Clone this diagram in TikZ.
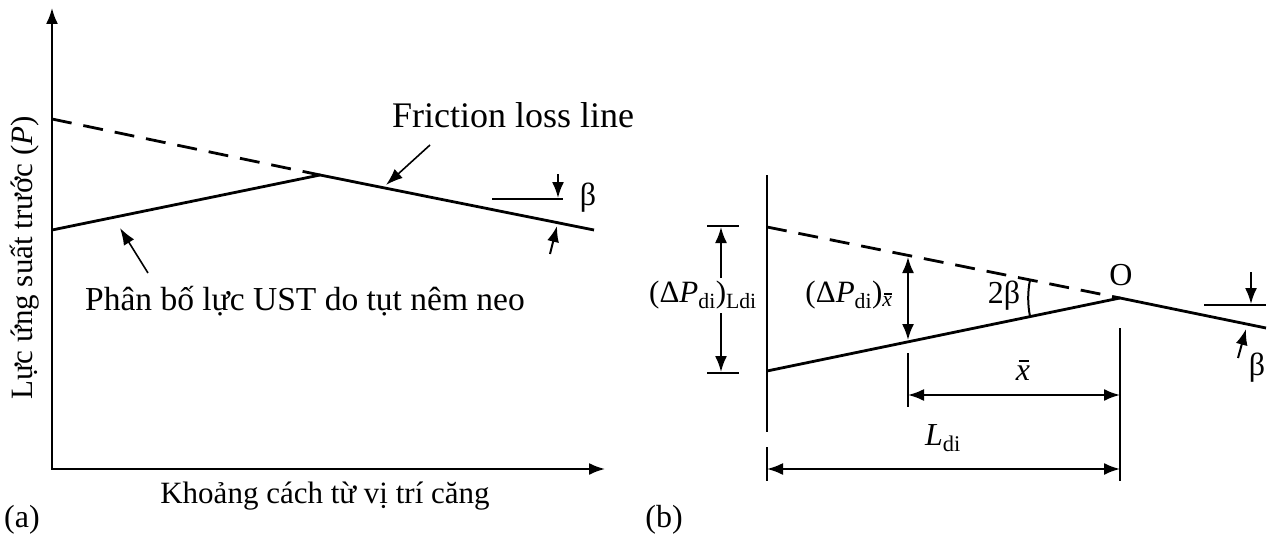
\documentclass[tikz,border=0pt]{standalone}
\usepackage{fontspec}
\setmainfont{Liberation Serif}
\usetikzlibrary{arrows.meta}
\newcommand\barx{{\setbox0\hbox{\itshape x}\vbox{\offinterlineskip\hbox to \wd0{\hskip0.2\wd0\rule{0.75\wd0}{0.06em}\hss}\kern0.1em\box0}}}
\begin{document}
\begin{tikzpicture}[x=1pt,y=-1pt,
  lbl/.style={font=\fontsize{32}{37}\selectfont, inner sep=0pt},
  mainline/.style={line width=2.8pt},
  dashline/.style={line width=2.8pt, dash pattern=on 20pt off 12pt},
  thinline/.style={line width=2pt},
  axis/.style={line width=2pt, {Latex[length=16pt,width=12pt]}-{Latex[length=16pt,width=12pt]}},
  dimarrow/.style={line width=2pt, {Latex[length=16pt,width=12pt]}-{Latex[length=16pt,width=12pt]}},
  onearrow/.style={line width=2pt, -{Latex[length=16pt,width=12pt]}},
  pointer/.style={line width=1.6pt, -{Latex[length=17pt,width=12pt]}}
]
\useasboundingbox (0,0) rectangle (1275,535);

% ---------------- panel (a) ----------------
\coordinate (ytop) at (52,8);
\coordinate (orig) at (52,469);
\coordinate (xend) at (605,469);
\draw[axis] (ytop) -- (orig) -- (xend);

\coordinate (a1) at (52,119);
\coordinate (apk) at (320,175);
\coordinate (aend) at (594,230);
\coordinate (a2) at (52,230);
\draw[dashline] (a1) -- (apk);
\draw[mainline] (a2) -- (apk) -- (aend);

\node[lbl, font=\fontsize{36}{40}\selectfont] (fl) at (513,115) {Friction loss line};
\coordinate (flS) at (430,145);
\coordinate (flE) at (386,185);
\draw[pointer] (flS) -- (flE);

\node[lbl, font=\fontsize{33.5}{38}\selectfont] (pb) at (305,301) {Phân bố lực UST do tụt nêm neo};
\coordinate (pbS) at (148,273);
\coordinate (pbE) at (120,228);
\draw[pointer] (pbS) -- (pbE);

\coordinate (bhL) at (492,199);
\coordinate (bhR) at (563,199);
\draw[thinline] (bhL) -- (bhR);
\coordinate (bdS) at (558,174);
\coordinate (bdE) at (558,198);
\draw[onearrow] (bdS) -- (bdE);
\coordinate (buS) at (550,254);
\coordinate (buE) at (557,226);
\draw[onearrow] (buS) -- (buE);
\node[lbl] (ba) at (588,198) {β};

\node[lbl, font=\fontsize{31}{36}\selectfont, rotate=90] (ylab) at (25,258) {Lực ứng suất trước (\textit{P})};
\node[lbl, font=\fontsize{31}{36}\selectfont] (xlab) at (325,496) {Khoảng cách từ vị trí căng};
\node[lbl] (la) at (22,520) {(a)};

% ---------------- panel (b) ----------------
\coordinate (vtop) at (767,175);
\coordinate (vbot) at (767,432);
\draw[thinline] (vtop) -- (vbot);
\coordinate (vext1) at (767,447);
\coordinate (vext2) at (767,481);
\draw[thinline] (vext1) -- (vext2);

\coordinate (b1) at (767,227);
\coordinate (O) at (1120,298);
\coordinate (b2) at (767,371);
\coordinate (bend) at (1266,328);
\draw[dashline] (b1) -- (O);
\draw[mainline] (b2) -- (O) -- (bend);
\node[lbl, anchor=base] (Olab) at (1121,285) {O};

% left dimension
\coordinate (t1L) at (707,226);
\coordinate (t1R) at (739,226);
\coordinate (t2L) at (707,373);
\coordinate (t2R) at (739,373);
\draw[thinline] (t1L) -- (t1R);
\draw[thinline] (t2L) -- (t2R);
\node[lbl, font=\fontsize{31}{36}\selectfont, anchor=base] (dPL) at (703,302) {(Δ\textit{P}\textsubscript{di})\textsubscript{Ldi}};
\coordinate (dl1) at (721,278);
\coordinate (dl1e) at (721,227);
\coordinate (dl2) at (721,313);
\coordinate (dl2e) at (721,372);
\draw[onearrow] (dl1) -- (dl1e);
\draw[onearrow] (dl2) -- (dl2e);

% inner dimension
\coordinate (iT) at (908,257);
\coordinate (iB) at (908,340);
\draw[dimarrow] (iT) -- (iB);
\node[lbl, font=\fontsize{31}{36}\selectfont, anchor=base] (dPx) at (849,302) {(Δ\textit{P}\textsubscript{di})\textsubscript{\barx}};

% extension lines
\coordinate (e1T) at (908,353);
\coordinate (e1B) at (908,407);
\draw[thinline] (e1T) -- (e1B);
\coordinate (e2T) at (1120,328);
\coordinate (e2B) at (1120,481);
\draw[thinline] (e2T) -- (e2B);

% x-bar dimension
\coordinate (xbL) at (908,395);
\coordinate (xbR) at (1120,395);
\draw[dimarrow] (xbL) -- (xbR);
\node[lbl, anchor=base] (xbl) at (1023,380) {\barx};

% L_di dimension
\coordinate (LdL) at (767,469);
\coordinate (LdR) at (1120,469);
\draw[dimarrow] (LdL) -- (LdR);
\node[lbl, anchor=base] (Ldl) at (943,445) {\textit{L}\textsubscript{di}};

% 2 beta angle
\coordinate (arcS) at (1030,280);
\draw[thinline] (arcS) arc[start angle=191.4, end angle=168.3, radius=91.8];
\node[lbl, anchor=base] (tb) at (1004,303) {2β};

% beta marker (b)
\coordinate (rhL) at (1204,305);
\coordinate (rhR) at (1266,305);
\draw[thinline] (rhL) -- (rhR);
\coordinate (rdS) at (1251,272);
\coordinate (rdE) at (1251,304);
\draw[onearrow] (rdS) -- (rdE);
\coordinate (ruS) at (1238,358);
\coordinate (ruE) at (1246,329);
\draw[onearrow] (ruS) -- (ruE);
\node[lbl] (bb) at (1257,368) {β};

\node[lbl] (lb) at (664,520) {(b)};
\end{tikzpicture}
\end{document}
